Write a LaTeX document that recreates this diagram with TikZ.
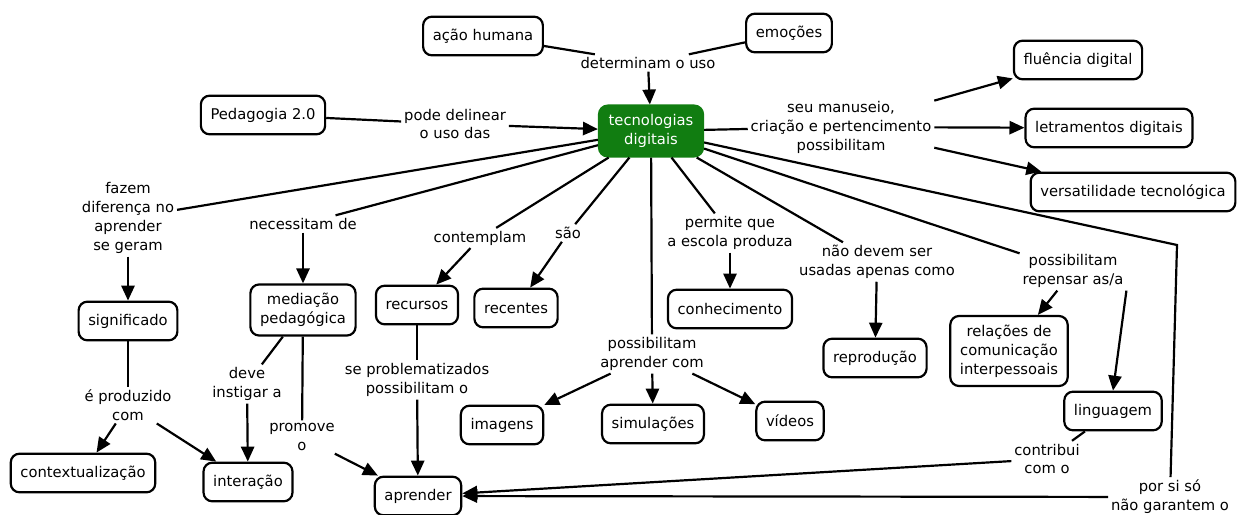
\documentclass[tikz,border=0pt]{standalone}
\usepackage{fontspec}
\setmainfont{DejaVu Sans}
\usetikzlibrary{arrows.meta}
\definecolor{tecgreen}{RGB}{17,125,17}
\tikzset{every node/.style={font=\fontsize{8.4}{10.8}\selectfont},
  concept/.style={draw, line width=1.25pt, rounded corners=5pt, align=center,
    inner xsep=5.5pt, inner ysep=5pt, minimum height=22pt},
  phrase/.style={align=center, inner sep=1.5pt},
  lnk/.style={line width=1.25pt},
  arr/.style={line width=1.25pt, -{Triangle[length=8.5pt,width=7.5pt]}}}

\begin{document}
\begin{tikzpicture}[x=0.02cm,y=-0.02cm]
\useasboundingbox (0,0) rectangle (1240,514);
% concepts
\node[concept, fill=tecgreen, draw=tecgreen, text=white] (tec) at (651,131) {tecnologias\\digitais};
\node[concept] (accao) at (483,36) {ação humana};
\node[concept] (emocoes) at (789,33) {emoções};
\node[concept] (pedag) at (263,115) {Pedagogia 2.0};
\node[concept] (fluencia) at (1078,60) {fluência digital};
\node[concept] (letramentos) at (1109,128) {letramentos digitais};
\node[concept] (versatil) at (1133,192) {versatilidade tecnológica};
\node[concept] (signif) at (128,321) {significado};
\node[concept] (mediacao) at (303,310) {mediação\\pedagógica};
\node[concept] (context) at (83,473) {contextualização};
\node[concept] (interacao) at (248,482) {interação};
\node[concept] (aprender) at (418,496) {aprender};
\node[concept] (recursos) at (417,305) {recursos};
\node[concept] (recentes) at (516,308) {recentes};
\node[concept] (imagens) at (502,425) {imagens};
\node[concept] (simul) at (653,424) {simulações};
\node[concept] (videos) at (790,421) {vídeos};
\node[concept] (conhec) at (730,309) {conhecimento};
\node[concept] (reproducao) at (875,358) {reprodução};
\node[concept] (relacoes) at (1009,351) {relações de\\comunicação\\interpessoais};
\node[concept] (linguagem) at (1113,411) {linguagem};
% linking phrases
\node[phrase] (determinam) at (648,63) {determinam o uso};
\node[phrase] (delinear) at (455,124) {pode delinear\\o uso das};
\node[phrase] (manuseio) at (841,127) {seu manuseio,\\criação e pertencimento\\possibilitam};
\node[phrase] (fazem) at (128,218) {fazem\\diferença no\\aprender\\se geram};
\node[phrase] (necessitam) at (303,224) {necessitam de};
\node[phrase] (produzido) at (128,405) {é produzido\\com};
\node[phrase] (instigar) at (247,384) {deve\\instigar a};
\node[phrase] (promove) at (302,437) {promove\\o};
\node[phrase] (contemplam) at (480,238) {contemplam};
\node[phrase] (problematiz) at (417,380) {se problematizados\\possibilitam o};
\node[phrase] (sao) at (568,233) {são};
\node[phrase] (aprendercom) at (652,354) {possibilitam\\aprender com};
\node[phrase] (permite) at (730,233) {permite que\\a escola produza};
\node[phrase] (naodevem) at (877,262) {não devem ser\\usadas apenas como};
\node[phrase] (repensar) at (1073,271) {possibilitam\\repensar as/a};
\node[phrase] (contribui) at (1047,459) {contribui\\com o};
\node[phrase] (porsi) at (1170,497) {por si só\\não garantem o};
\coordinate (corner) at (1177,245);
% connectors
\draw[lnk] (accao) -- (determinam);
\draw[lnk] (emocoes) -- (determinam);
\draw[arr] (determinam) -- (tec);
\draw[lnk] (pedag) -- (delinear);
\draw[arr] (delinear) -- (tec);
\draw[lnk] (tec) -- (manuseio);
\foreach \t in {fluencia,letramentos,versatil}
  \draw[arr] (manuseio) -- (\t);
\draw[lnk] (tec) -- (fazem);
\draw[arr] (fazem) -- (signif);
\draw[lnk] (tec) -- (necessitam);
\draw[arr] (necessitam) -- (mediacao);
\draw[lnk] (signif) -- (produzido);
\draw[arr] (produzido) -- (context);
\draw[arr] (produzido) -- (interacao);
\draw[lnk] (mediacao) -- (instigar);
\draw[arr] (instigar) -- (interacao);
\draw[lnk] (mediacao) -- (promove);
\draw[arr] (promove) -- (aprender);
\draw[lnk] (tec) -- (contemplam);
\draw[arr] (contemplam) -- (recursos);
\draw[lnk] (recursos) -- (problematiz);
\draw[arr] (problematiz) -- (aprender);
\draw[lnk] (tec) -- (sao);
\draw[arr] (sao) -- (recentes);
\draw[lnk] (tec) -- (aprendercom);
\foreach \t in {imagens,simul,videos}
  \draw[arr] (aprendercom) -- (\t);
\draw[lnk] (tec) -- (permite);
\draw[arr] (permite) -- (conhec);
\draw[lnk] (tec) -- (naodevem);
\draw[arr] (naodevem) -- (reproducao);
\draw[lnk] (tec) -- (repensar);
\draw[arr] (repensar) -- (relacoes);
\draw[arr] (repensar.south east) -- (linguagem.north);
\draw[lnk] (linguagem) -- (contribui);
\draw[arr] (contribui) -- (aprender);
\draw[lnk] (tec) -- (corner) -- (porsi);
\draw[arr] (porsi) -- (aprender);
\end{tikzpicture}
\end{document}
